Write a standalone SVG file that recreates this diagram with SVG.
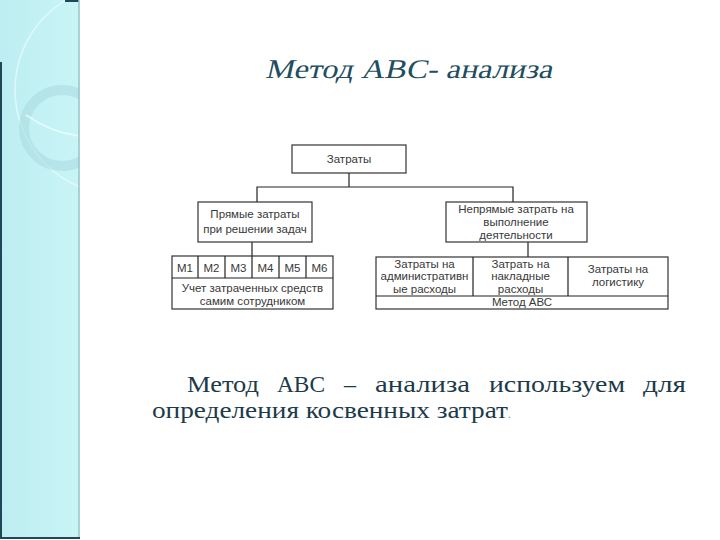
<svg xmlns="http://www.w3.org/2000/svg" width="720" height="540" viewBox="0 0 720 540">
<defs>
<linearGradient id="panel" x1="0" y1="0" x2="1" y2="0">
<stop offset="0" stop-color="#bdeef1"/>
<stop offset="1" stop-color="#c9f4f6"/>
</linearGradient>
<clipPath id="pc"><rect x="0" y="0" width="79" height="538"/></clipPath>
</defs>
<style>
.box{fill:#ffffff;stroke:#333333;stroke-width:1.2}
.ln{fill:none;stroke:#222222;stroke-width:1.2}
.t{font-family:"Liberation Sans",Arial,sans-serif;font-size:11.5px;fill:#383838;text-anchor:middle}
.title{font-family:"Liberation Serif",serif;font-size:27px;fill:#214d60}
.body{font-family:"Liberation Serif",serif;font-size:24px;fill:#1c3a48}
</style>
<rect x="0" y="0" width="720" height="540" fill="#ffffff"/>
<g id="panel-bg">
<rect x="0" y="0" width="79" height="538" fill="url(#panel)"/>
<g clip-path="url(#pc)">
<circle cx="120" cy="90" r="105" fill="none" stroke="#e6fbfc" stroke-width="1.5" opacity="0.8"/>
<circle cx="62" cy="128" r="38" fill="none" stroke="#a9d8de" stroke-width="10" opacity="0.55"/>
<path d="M26 115 Q50 132 79 136" fill="none" stroke="#e8fcfd" stroke-width="2" opacity="0.8"/>
</g>
<line x1="1" y1="62" x2="1" y2="538" stroke="#1f4756" stroke-width="2"/>
<line x1="65" y1="1" x2="79" y2="1" stroke="#1f4756" stroke-width="2"/>
<line x1="79" y1="0" x2="79" y2="538" stroke="#8fc4ca" stroke-width="1.5"/>
<line x1="0" y1="538" x2="80" y2="538" stroke="#1f4756" stroke-width="2"/>
</g>
<text class="title" transform="skewX(-13)" x="283" y="78" textLength="287" lengthAdjust="spacingAndGlyphs">Метод АВС- анализа</text>
<g id="connectors">
<path class="ln" d="M349 173 V187 M257 202 V187 H513 V202"/>
<path class="ln" d="M252 242 V256"/>
<path class="ln" d="M528 242 V257"/>
</g>
<g id="n-zatraty">
<rect class="box" x="292" y="145" width="114" height="28"/>
<text class="t" x="349" y="163">Затраты</text>
</g>
<g id="n-pryamye">
<rect class="box" x="198" y="202" width="114" height="40"/>
<text class="t" x="255" y="218">Прямые затраты</text>
<text class="t" x="255" y="233">при решении задач</text>
</g>
<g id="n-kosv">
<rect class="box" x="446" y="202" width="141" height="40"/>
<text class="t" x="516" y="213">Непрямые затрать на</text>
<text class="t" x="516" y="226">выполнение</text>
<text class="t" x="516" y="239">деятельности</text>
</g>
<g id="n-m-table">
<rect class="box" x="172" y="256" width="161" height="53"/>
<path class="ln" d="M172 278 H333 M198 256 V278 M225 256 V278 M252 256 V278 M279 256 V278 M306 256 V278"/>
<text class="t" x="185" y="272">М1</text>
<text class="t" x="211.5" y="272">М2</text>
<text class="t" x="238.5" y="272">М3</text>
<text class="t" x="265.5" y="272">М4</text>
<text class="t" x="292.5" y="272">М5</text>
<text class="t" x="319.5" y="272">М6</text>
<text class="t" x="252.5" y="292">Учет затраченных средств</text>
<text class="t" x="252.5" y="305">самим сотрудником</text>
</g>
<g id="n-abc-table">
<rect class="box" x="376" y="257" width="292" height="52"/>
<path class="ln" d="M376 296 H668 M473 257 V296 M568 257 V296"/>
<text class="t" x="424.5" y="268">Затраты на</text>
<text class="t" x="424.5" y="280">административн</text>
<text class="t" x="424.5" y="293">ые расходы</text>
<text class="t" x="520.5" y="268">Затрать на</text>
<text class="t" x="520.5" y="280">накладные</text>
<text class="t" x="520.5" y="293">расходы</text>
<text class="t" x="618" y="273">Затраты на</text>
<text class="t" x="618" y="286">логистику</text>
<text class="t" x="522" y="306">Метод АВС</text>
</g>
<text class="body" y="392"><tspan x="187" textLength="72" lengthAdjust="spacingAndGlyphs">Метод</tspan><tspan x="277" textLength="48" lengthAdjust="spacingAndGlyphs">АВС</tspan><tspan x="344">–</tspan><tspan x="375" textLength="95" lengthAdjust="spacingAndGlyphs">анализа</tspan><tspan x="489" textLength="136" lengthAdjust="spacingAndGlyphs">используем</tspan><tspan x="643" textLength="43" lengthAdjust="spacingAndGlyphs">для</tspan></text>
<text class="body" x="152" y="418"><tspan textLength="356" lengthAdjust="spacingAndGlyphs">определения косвенных затрат</tspan><tspan fill="#8a9aa0" font-size="12">.</tspan></text>
</svg>
